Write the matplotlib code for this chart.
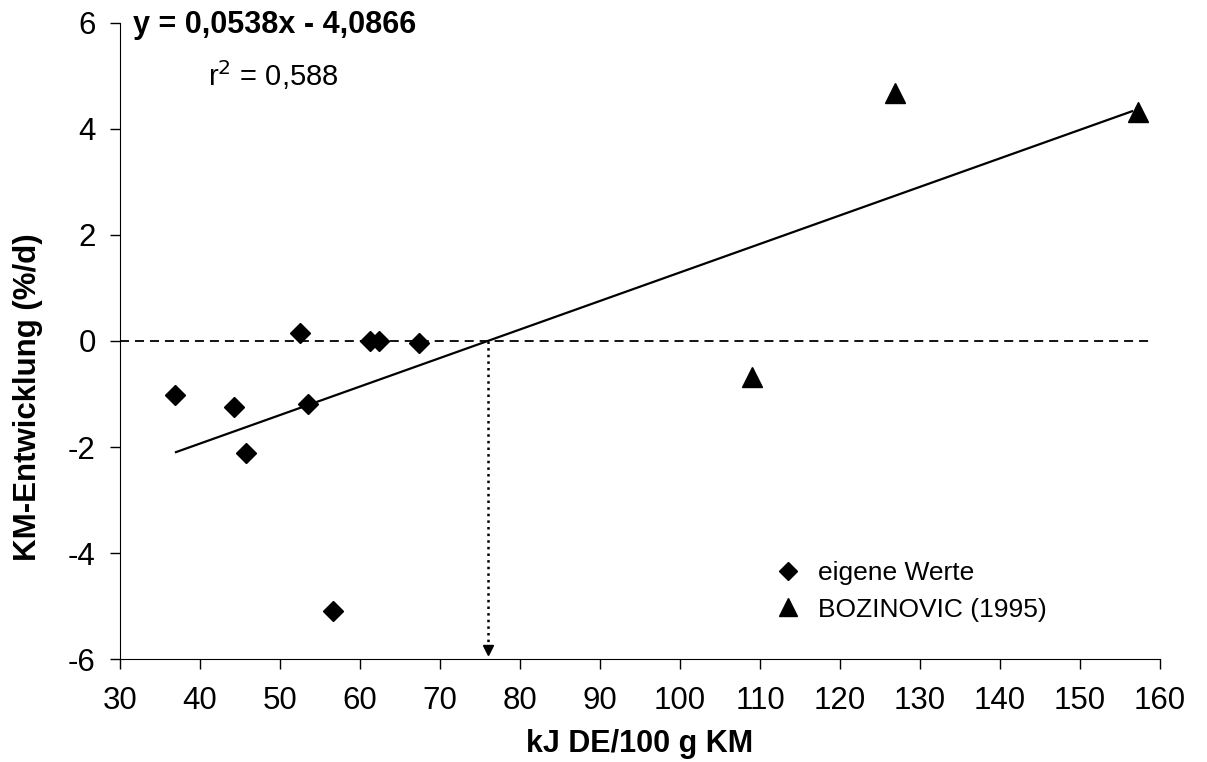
import numpy as np
import matplotlib.pyplot as plt

plt.rcParams['font.family'] = ['Liberation Sans', 'DejaVu Sans']
plt.rcParams['axes.unicode_minus'] = False

# eigene Werte
own_x = [36.9, 44.2, 45.8, 52.5, 53.5, 56.6, 61.2, 62.4, 67.4]
own_y = [-1.02, -1.24, -2.11, 0.16, -1.19, -5.09, 0.0, 0.0, -0.03]

# BOZINOVIC (1995)
boz_x = [109.0, 126.9, 157.3]
boz_y = [-0.67, 4.68, 4.32]

slope = 0.0538
intercept = -4.0866
fit_x = np.array([37.0, 156.5])
x0 = -intercept / slope

fig = plt.figure(figsize=(12.07, 7.62), dpi=100)
ax = fig.add_axes([0.0994, 0.135, 0.8617, 0.835])

ax.plot([30, 158.6], [0, 0], color='k', ls=(0, (5, 3.3)), lw=1.3)
ax.plot(fit_x, slope * fit_x + intercept, color='k', lw=1.6)
ax.plot([x0, x0], [0, -5.75], color='k', ls=':', lw=1.8)
ax.plot([x0], [-5.82], marker='v', color='k', ms=7, ls='none', clip_on=False)

ax.plot(own_x, own_y, 'kD', ms=10.5, ls='none', label='eigene Werte')
ax.plot(boz_x, boz_y, 'k^', ms=15, ls='none', label='BOZINOVIC (1995)')

ax.set_xlim(30, 160)
ax.set_ylim(-6, 6)
ax.set_xticks(np.arange(30, 161, 10))
ax.set_yticks(np.arange(-6, 7, 2))
ax.spines['top'].set_visible(False)
ax.spines['right'].set_visible(False)
ax.tick_params(direction='out', length=7, width=1, labelsize=22.5)
ax.tick_params(axis='x', pad=12.5)
ax.tick_params(axis='y', pad=10.5)
ax.set_xlabel('kJ DE/100 g KM', fontsize=22, fontweight='bold', va='top')
ax.xaxis.set_label_coords(0.5, -0.110)
ax.set_ylabel('KM-Entwicklung (%/d)', fontsize=22.5, fontweight='bold')
ax.yaxis.set_label_coords(-0.074, 0.412)

ax.text(0.0125, 0.997, 'y = 0,0538x - 4,0866', transform=ax.transAxes,
        fontsize=22, fontweight='bold', va='center', ha='left')
ax.text(0.0846, 0.918, 'r$^2$ = 0,588', transform=ax.transAxes,
        fontsize=21, va='center', ha='left')

ax.legend(loc='upper left', bbox_to_anchor=(0.619, 0.171), frameon=False,
          fontsize=19, handlelength=1.0, handletextpad=0.65,
          labelspacing=0.48, markerscale=0.9, borderaxespad=0)

fig.savefig('out.png', dpi=100)
